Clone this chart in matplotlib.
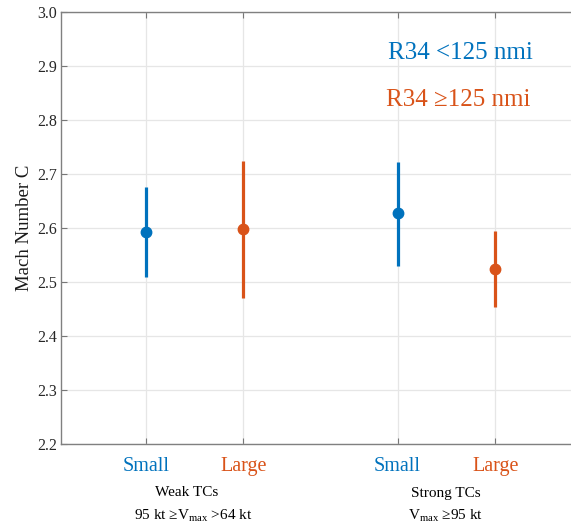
import numpy as np
import matplotlib.pyplot as plt

plt.rcParams['font.family'] = ['Liberation Serif', 'DejaVu Serif']
plt.rcParams['mathtext.fontset'] = 'custom'
plt.rcParams['mathtext.rm'] = 'Liberation Serif'

# Mach number C: mean and lower/upper bounds for each group
groups = ['Small', 'Large', 'Small', 'Large']
xpos = [1.0, 2.0, 3.575, 4.575]
c_mean = [2.593, 2.598, 2.628, 2.525]
c_low = [2.509, 2.471, 2.531, 2.455]
c_high = [2.677, 2.725, 2.723, 2.595]

blue = '#0072BD'
orange = '#D95319'
colors = [blue, orange, blue, orange]

fig = plt.figure(figsize=(5.71, 5.29), dpi=100)
xl = (0.134, 5.45)
ax = fig.add_axes([61 / 571, 0.1602, (xl[1] - xl[0]) * 97.8 / 571, 0.8166])

for i in range(len(xpos)):
    ax.plot([xpos[i], xpos[i]], [c_low[i], c_high[i]], color=colors[i],
            linewidth=2.3, solid_capstyle='butt', zorder=3)
    ax.plot(xpos[i], c_mean[i], 'o', color=colors[i], markersize=7.5, zorder=4)

ax.set_xlim(xl)
ax.set_ylim(2.2, 3.0)
ax.set_yticks(np.arange(2.2, 3.01, 0.1))
ax.set_yticklabels(['%.1f' % v for v in np.arange(2.2, 3.01, 0.1)], fontsize=11.5)
ax.set_xticks(xpos)
ax.set_xticklabels(groups, fontsize=14.5)
for lab, c in zip(ax.get_xticklabels(), colors):
    lab.set_color(c)
ax.tick_params(axis='x', pad=9, length=4, direction='in', top=True, color='#777777')
ax.tick_params(axis='y', pad=3, length=4, direction='in', right=True, color='#777777',
               labelcolor='#262626')
ax.grid(True, color='#e6e6e6', linewidth=0.9)
ax.set_axisbelow(True)
for s in ax.spines.values():
    s.set_color('#808080')
    s.set_linewidth(1.0)

ax.set_ylabel('Mach Number C', fontsize=13.5, labelpad=3, color='#1a1a1a')

fig.text(460 / 571, 1 - 53 / 529, 'R34 <125 nmi', color=blue,
         fontsize=18, ha='center', va='center')
fig.text(458 / 571, 1 - 100 / 529, 'R34 \u2265125 nmi', color=orange,
         fontsize=18, ha='center', va='center')

# group captions under the tick labels
fig.text(187 / 571, 1 - 493 / 529, 'Weak TCs', fontsize=11, ha='center', va='center')
fig.text(193 / 571, 1 - 516 / 529, '95 kt \u2265V$_{\\mathrm{max}}$ >64 kt', fontsize=11,
         ha='center', va='center')
fig.text(446 / 571, 1 - 493 / 529, 'Strong TCs', fontsize=11, ha='center', va='center')
fig.text(446 / 571, 1 - 516 / 529, 'V$_{\\mathrm{max}}$ \u226595 kt', fontsize=11,
         ha='center', va='center')

fig.savefig('out.png', dpi=100)
